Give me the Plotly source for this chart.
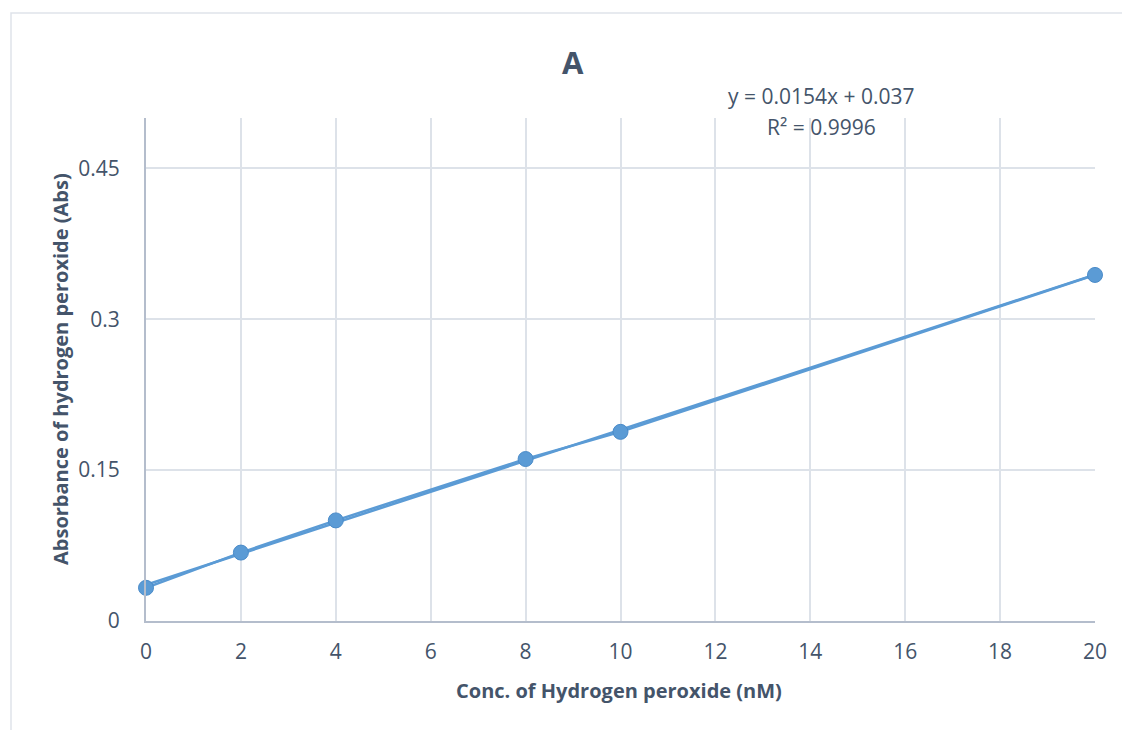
import numpy as np
import plotly.graph_objects as go

# Data
conc_nM = [0, 2, 4, 8, 10, 20]
absorbance = [0.033, 0.068, 0.100, 0.161, 0.188, 0.344]
x_ticks = [0, 2, 4, 6, 8, 10, 12, 14, 16, 18, 20]
y_ticks = [0, 0.15, 0.3, 0.45]
y_tick_labels = ["0", "0.15", "0.3", "0.45"]
equation_text = "y = 0.0154x + 0.037"
r2_text = "R² = 0.9996"
chart_title = "A"
x_title = "Conc. of Hydrogen peroxide (nM)"
y_title = "Absorbance of hydrogen peroxide (Abs)"

BLUE = "#5b9bd5"
TEXT = "#44546a"
GRID = "#dde2e9"
AXIS = "#b4bdcc"
FONT = "Open Sans"

# Linear trendline fitted to the data
slope, intercept = np.polyfit(conc_nM, absorbance, 1)
trend_x = [min(conc_nM), max(conc_nM)]
trend_y = [slope * v + intercept for v in trend_x]

fig = go.Figure()
fig.add_trace(go.Scatter(
    x=trend_x, y=trend_y, mode="lines",
    line=dict(color=BLUE, width=2.5), cliponaxis=False, showlegend=False,
    hoverinfo="skip"))
fig.add_trace(go.Scatter(
    x=conc_nM, y=absorbance, mode="lines+markers",
    line=dict(color=BLUE, width=2.5),
    marker=dict(color=BLUE, size=15, line=dict(color="#4a8bc9", width=1)),
    cliponaxis=False, showlegend=False))

# plot area in pixels: x 146..1095, y 118..621
L, R, T, B = 146, 1095, 118, 621
W, H = 1122, 730
pw, ph = R - L, B - T

def px(xp):
    return (xp - L) / pw

def py(yp):
    return (B - yp) / ph

fig.update_layout(
    width=W, height=H,
    margin=dict(l=L, r=W - R, t=T, b=H - B, pad=0),
    paper_bgcolor="white", plot_bgcolor="white",
    font=dict(family=FONT, color=TEXT, size=21),
    showlegend=False,
)
fig.update_xaxes(
    range=[0, 20], tickvals=x_ticks, showgrid=True, gridcolor=GRID, gridwidth=1.5,
    showline=True, linecolor=AXIS, linewidth=2, zeroline=False,
    ticks="", ticklabelstandoff=11, tickfont=dict(size=21, color=TEXT))
fig.update_yaxes(
    range=[0, 0.5], tickvals=y_ticks, ticktext=y_tick_labels,
    showgrid=True, gridcolor=GRID, gridwidth=1.5,
    showline=True, linecolor=AXIS, linewidth=2, zeroline=False,
    ticks="", ticklabelstandoff=20, tickfont=dict(size=21, color=TEXT))

# outer chart frame
shapes = [
    dict(type="rect", xref="paper", yref="paper",
         x0=px(11), x1=px(1125), y0=py(745), y1=py(13),
         line=dict(color="#dfe3ea", width=1.5), fillcolor="rgba(0,0,0,0)", layer="below"),
]
fig.update_layout(shapes=shapes)

annotations = [
    dict(text="<b>" + chart_title + "</b>", x=px(573), y=py(62), xref="paper", yref="paper",
         showarrow=False, font=dict(size=31, color=TEXT, family=FONT), xanchor="center", yanchor="middle"),
    dict(text=equation_text, x=px(821), y=py(96), xref="paper", yref="paper",
         showarrow=False, font=dict(size=21, color=TEXT, family=FONT), xanchor="center", yanchor="middle"),
    dict(text=r2_text, x=px(821), y=py(127), xref="paper", yref="paper",
         showarrow=False, font=dict(size=21, color=TEXT, family=FONT), xanchor="center", yanchor="middle"),
    dict(text="<b>" + x_title + "</b>", x=px(619), y=py(690), xref="paper", yref="paper",
         showarrow=False, font=dict(size=20, color=TEXT, family=FONT), xanchor="center", yanchor="middle"),
    dict(text="<b>" + y_title + "</b>", x=px(60), y=py(369), xref="paper", yref="paper",
         showarrow=False, textangle=-90, font=dict(size=20, color=TEXT, family=FONT),
         xanchor="center", yanchor="middle"),
]
fig.update_layout(annotations=annotations)

fig.write_html("out.html")
